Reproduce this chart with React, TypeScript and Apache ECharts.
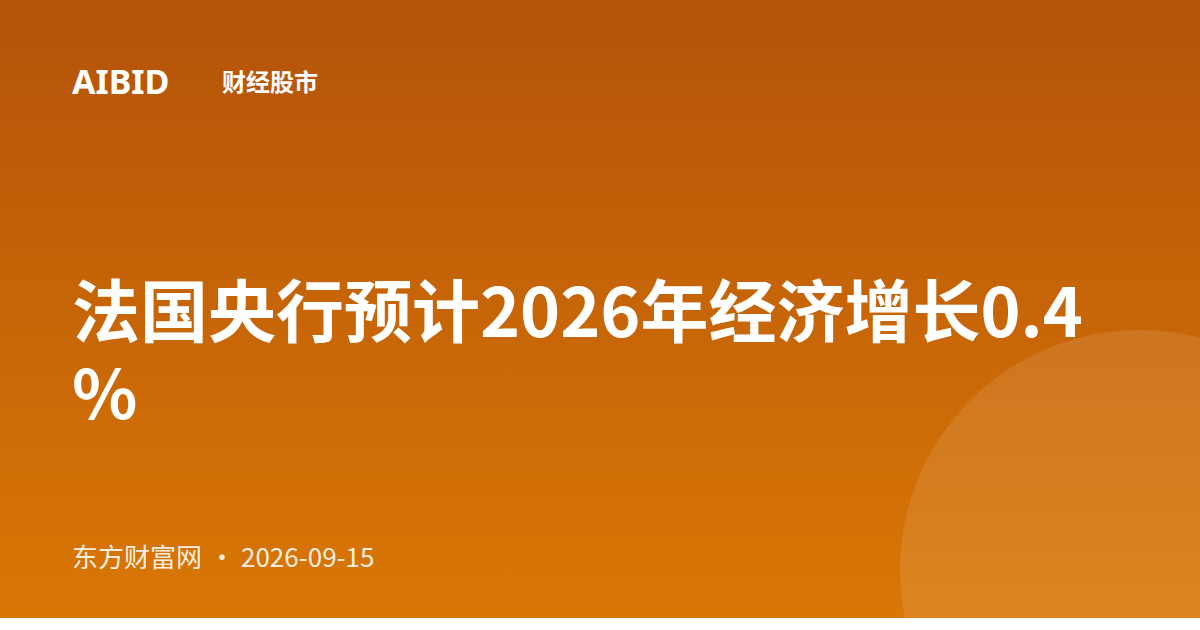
import * as echarts from "echarts";
import { useEffect, useRef } from "react";

// 卡片上的文字
const brand = "AIBID";
const channel = "财经股市";
const headline = "法国央行预计2026年经济增长0.4%";
const source = "东方财富网";
const dateText = "2026-09-15";
const gradientStops = ["#B45309", "#D97706"];

const W = 1200;
const H = 618;
const CJK = '"Noto Sans CJK SC", "Noto Sans", sans-serif';

export default function App() {
  const ref = useRef<HTMLDivElement>(null);

  useEffect(() => {
    if (!ref.current) return;
    const chart = echarts.init(ref.current, undefined, { renderer: "svg" });
    chart.setOption({
      animation: false,
      graphic: [
        {
          type: "rect",
          shape: { x: 0, y: 0, width: W, height: H },
          style: {
            fill: new echarts.graphic.LinearGradient(0, 0, 0, 1, [
              { offset: 0, color: gradientStops[0] },
              { offset: 1, color: gradientStops[1] },
            ]),
          },
          silent: true,
        },
        {
          type: "circle",
          shape: { cx: 1140, cy: 570, r: 240 },
          style: { fill: "rgba(255,255,255,0.1)" },
          silent: true,
        },
        {
          type: "text",
          x: 72,
          y: 81,
          style: {
            text: brand,
            fill: "#fff",
            font: 'bold 34px "Noto Sans", sans-serif',
            verticalAlign: "middle",
          },
        },
        {
          type: "text",
          x: 222,
          y: 80,
          style: {
            text: channel,
            fill: "#fff",
            font: `bold 24px ${CJK}`,
            verticalAlign: "middle",
          },
        },
        {
          type: "text",
          x: 72,
          y: 266,
          style: {
            text: headline,
            fill: "#fff",
            font: `bold 68px ${CJK}`,
            width: 1056,
            overflow: "breakAll",
            lineHeight: 82,
            verticalAlign: "top",
          },
        },
        {
          type: "text",
          x: 72,
          y: 555,
          style: {
            text: source,
            fill: "rgba(255,255,255,0.9)",
            font: `26px ${CJK}`,
            verticalAlign: "middle",
          },
        },
        {
          type: "text",
          x: 222,
          y: 555,
          style: {
            text: "·",
            fill: "rgba(255,255,255,0.9)",
            font: `26px ${CJK}`,
            align: "center",
            verticalAlign: "middle",
          },
        },
        {
          type: "text",
          x: 241,
          y: 555,
          style: {
            text: dateText,
            fill: "rgba(255,255,255,0.9)",
            font: `26px ${CJK}`,
            verticalAlign: "middle",
          },
        },
      ],
    });
    return () => {
      chart.dispose();
    };
  }, []);

  return (
    <div
      ref={ref}
      style={{ position: "absolute", left: 0, top: 0, width: W, height: H }}
    ></div>
  );
}
